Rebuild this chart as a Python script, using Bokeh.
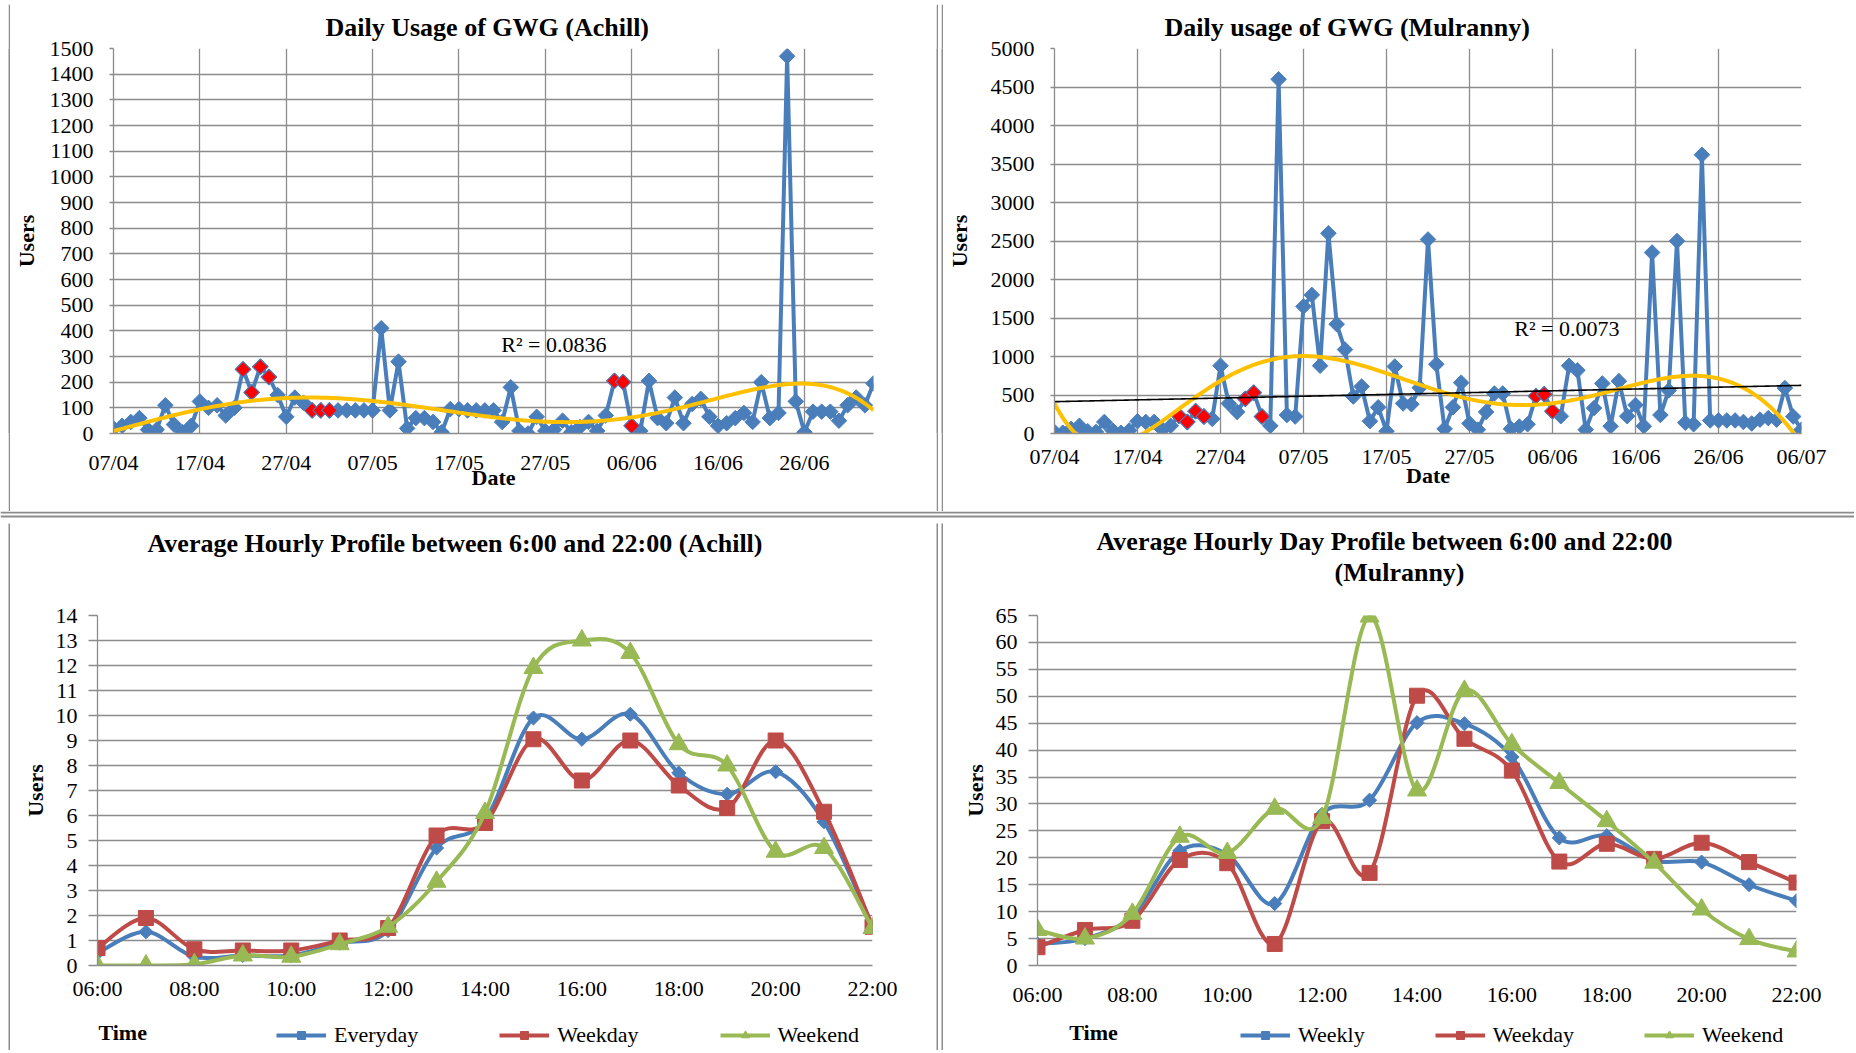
import numpy as np
from numpy.polynomial import Polynomial
from bokeh.plotting import figure
from bokeh.models import (Range1d, FixedTicker, SingleIntervalTicker, Label, Legend,
                          LegendItem, ColumnDataSource, Title, Span)
from bokeh.layouts import column, row
from bokeh.embed import file_html
from bokeh.resources import INLINE

# ---------------- data ----------------
# Daily usage, Achill: one value per day starting 07/04
achill_users = [20, 30, 45, 60, 15, 15, 110, 35, 5, 30,
                125, 100, 110, 70, 100, 250, 160, 260, 220, 150,
                65, 140, 120, 90, 90, 90, 90, 90, 90, 90,
                90, 410, 90, 280, 20, 60, 60, 45, 5, 95,
                95, 90, 90, 90, 90, 45, 180, 10, 0, 65,
                10, 15, 50, 5, 25, 45, 10, 70, 205, 200,
                30, 10, 205, 60, 40, 140, 40, 115, 135, 65,
                30, 40, 60, 80, 45, 200, 60, 80, 1470, 125,
                5, 85, 85, 85, 50, 110, 140, 110, 195]
achill_holidays = [15, 16, 17, 18, 23, 24, 25, 58, 59, 60]
achill_tick_days = [0, 10, 20, 30, 40, 50, 60, 70, 80]
achill_tick_labels = ["07/04", "17/04", "27/04", "07/05", "17/05",
                      "27/05", "06/06", "16/06", "26/06"]
achill_r2 = "R\u00b2 = 0.0836"

# Daily usage, Mulranny: one value per day starting 07/04
mulranny_users = [20, 10, 60, 100, 30, 20, 150, 40, 10, 40,
                  160, 150, 150, 50, 100, 230, 150, 290, 220, 190,
                  880, 390, 280, 450, 530, 220, 100, 4600, 240, 220,
                  1650, 1800, 880, 2600, 1420, 1090, 480, 610, 160, 340,
                  30, 870, 390, 380, 595, 2520, 900, 60, 340, 660,
                  130, 50, 280, 520, 520, 60, 90, 120, 485, 510,
                  290, 225, 880, 820, 50, 330, 650, 95, 680, 225,
                  370, 95, 2350, 240, 560, 2500, 140, 120, 3620, 170,
                  170, 170, 170, 150, 130, 180, 200, 180, 590, 220,
                  50]
mulranny_holidays = [15, 16, 17, 18, 23, 24, 25, 58, 59, 60]
mulranny_tick_days = [0, 10, 20, 30, 40, 50, 60, 70, 80, 90]
mulranny_tick_labels = ["07/04", "17/04", "27/04", "07/05", "17/05",
                        "27/05", "06/06", "16/06", "26/06", "06/07"]
mulranny_r2 = "R\u00b2 = 0.0073"

# Average hourly profiles
hours = [6, 7, 8, 9, 10, 11, 12, 13, 14, 15, 16, 17, 18, 19, 20, 21, 22]
hour_ticks = [6, 8, 10, 12, 14, 16, 18, 20, 22]
hour_tick_labels = ["06:00", "08:00", "10:00", "12:00", "14:00",
                    "16:00", "18:00", "20:00", "22:00"]

achill_everyday = [0.5, 1.35, 0.35, 0.4, 0.4, 0.9, 1.4, 4.7, 5.8,
                   9.9, 9.05, 10.05, 7.7, 6.85, 7.75, 5.75, 1.55]
achill_weekday = [0.7, 1.9, 0.65, 0.6, 0.6, 1.0, 1.5, 5.2, 5.7,
                  9.05, 7.4, 9.0, 7.2, 6.3, 9.0, 6.15, 1.55]
achill_weekend = [0.0, 0.0, 0.05, 0.4, 0.35, 0.85, 1.55, 3.35, 6.1,
                  11.9, 13.0, 12.5, 8.85, 8.0, 4.55, 4.7, 1.5]

mulranny_weekly = [4.0, 5.0, 9.2, 21.3, 20.6, 11.5, 28.1, 30.7, 45.1,
                   44.9, 38.7, 23.7, 24.1, 19.5, 19.2, 15.0, 12.0]
mulranny_weekday = [3.4, 6.6, 8.3, 19.6, 19.0, 4.0, 26.8, 17.2, 50.1,
                    42.1, 36.2, 19.3, 22.6, 19.8, 22.8, 19.2, 15.4]
mulranny_weekend = [6.6, 5.0, 9.6, 23.9, 20.9, 29.1, 27.4, 64.8, 32.5,
                    51.0, 41.1, 33.9, 26.8, 19.1, 10.4, 4.9, 2.6]

# ---------------- style ----------------
FONT = "Liberation Serif"
GRID = "#8c8c8c"
BLUE = "#4a7ebb"
RED = "#be4b48"
GREEN = "#98b954"
YELLOW = "#ffc000"


def solid(width, height, color):
    """Empty figure filled with one colour: used for the grey vertical frame lines."""
    f = figure(width=width, height=height, x_range=Range1d(0, 1), y_range=Range1d(0, 1),
               output_backend="svg", toolbar_location=None, title=None,
               x_axis_type=None, y_axis_type=None,
               min_border_left=0, min_border_right=0,
               min_border_top=0, min_border_bottom=0)
    f.background_fill_color = color
    f.border_fill_color = color
    f.outline_line_color = None
    return f


def hrule_strip(width, height, rule_heights):
    """White strip with horizontal grey frame lines (heights in px from the bottom)."""
    f = figure(width=width, height=height, x_range=Range1d(0, width),
               y_range=Range1d(0, height), output_backend="svg",
               toolbar_location=None, title=None, x_axis_type=None, y_axis_type=None,
               min_border_left=0, min_border_right=0,
               min_border_top=0, min_border_bottom=0)
    f.background_fill_color = "white"
    f.border_fill_color = "white"
    f.outline_line_color = None
    for hy in rule_heights:
        f.add_layout(Span(location=hy, dimension="width", line_color=GRID, line_width=2))
    return f


def make_fig(width, height, xr, yr, borders, y_tick_out, y_standoff, x_standoff):
    left, right, top, bottom = borders
    p = figure(width=width, height=height,
               x_range=Range1d(*xr), y_range=Range1d(*yr),
               output_backend="svg", toolbar_location=None,
               min_border_left=left, min_border_right=right,
               min_border_top=top, min_border_bottom=bottom)
    p.outline_line_color = None
    p.background_fill_color = "white"
    p.border_fill_color = "white"
    for ax in (p.xaxis[0], p.yaxis[0]):
        ax.axis_line_color = GRID
        ax.axis_line_width = 1.3
        ax.major_tick_line_color = GRID
        ax.major_tick_line_width = 1.3
        ax.minor_tick_line_color = None
        ax.major_tick_in = 0
        ax.major_label_text_font = FONT
        ax.major_label_text_font_size = "22px"
        ax.major_label_text_color = "black"
        ax.axis_label_text_font = FONT
        ax.axis_label_text_font_size = "22px"
        ax.axis_label_text_font_style = "bold"
        ax.axis_label_text_color = "black"
    p.xaxis.major_tick_out = 0
    p.xaxis.major_label_standoff = x_standoff
    p.yaxis.major_tick_out = y_tick_out
    p.yaxis.major_label_standoff = y_standoff
    p.grid.grid_line_color = GRID
    p.grid.grid_line_width = 1.3
    return p


def style_title(t, text, offset, standoff):
    t.text = text
    t.align = "left"
    t.offset = offset
    t.standoff = standoff
    t.text_font = FONT
    t.text_font_size = "26px"
    t.text_font_style = "bold"
    t.text_color = "black"


def add_title(p, text, offset, standoff):
    t = Title()
    style_title(t, text, offset, standoff)
    p.add_layout(t, "above")


def smooth_source(xs, ys):
    """Bezier control points (Catmull-Rom) so the curve passes through every point."""
    x = np.asarray(xs, float)
    y = np.asarray(ys, float)
    n = len(x)
    xp = np.concatenate([[x[0]], x, [x[-1]]])
    yp = np.concatenate([[y[0]], y, [y[-1]]])
    return ColumnDataSource(dict(
        x0=x[:-1], y0=y[:-1], x1=x[1:], y1=y[1:],
        cx0=x[:-1] + (xp[2:n + 1] - xp[0:n - 1]) / 6.0,
        cy0=y[:-1] + (yp[2:n + 1] - yp[0:n - 1]) / 6.0,
        cx1=x[1:] - (xp[3:n + 2] - xp[1:n]) / 6.0,
        cy1=y[1:] - (yp[3:n + 2] - yp[1:n]) / 6.0,
    ))


def daily_chart(width, height, borders, users, holidays, tick_days, tick_labels,
                xmax, ymax, ystep, deg, with_linear, x_standoff):
    p = make_fig(width, height, (0, xmax), (0, ymax), borders, 4, 16, x_standoff)
    p.xaxis.ticker = FixedTicker(ticks=tick_days)
    p.xaxis.major_label_overrides = {d: lab for d, lab in zip(tick_days, tick_labels)}
    p.yaxis.ticker = SingleIntervalTicker(interval=ystep, num_minor_ticks=0)
    days = np.arange(len(users))
    p.line(days, users, line_color=BLUE, line_width=4)
    p.scatter(days, users, marker="square", angle=np.pi / 4, size=11,
              fill_color=BLUE, line_color=BLUE, line_width=1)
    hol_vals = [users[d] for d in holidays]
    p.scatter(holidays, hol_vals, marker="square", angle=np.pi / 4, size=11,
              fill_color="#ff0000", line_color=BLUE, line_width=1.2)
    xs = np.linspace(0, xmax, 500)
    poly = Polynomial.fit(days, users, deg)
    p.line(xs, poly(xs), line_color=YELLOW, line_width=4)
    if with_linear:
        lin = Polynomial.fit(days, users, 1)
        p.line(xs, lin(xs), line_color="black", line_width=1.6)
    p.xaxis.axis_label = "Date"
    p.yaxis.axis_label = "Users"
    return p


# ---------------- top left: Achill daily ----------------
p1 = daily_chart(926, 507, (103, 63, 44, 78), achill_users, achill_holidays,
                 achill_tick_days, achill_tick_labels, 88, 1500, 100, 6, False, 16)
style_title(p1.title, "Daily Usage of GWG (Achill)", 212, 13)
p1.yaxis.axis_label_standoff = 8
p1.xaxis.axis_label_standoff = -13
p1.add_layout(Label(x=44.9, y=347, text=achill_r2, text_font=FONT, text_font_size="22px",
                    text_align="left", text_baseline="middle", text_color="black"))

# ---------------- top right: Mulranny daily ----------------
p2 = daily_chart(911, 507, (111, 53, 44, 78), mulranny_users, mulranny_holidays,
                 mulranny_tick_days, mulranny_tick_labels, 90, 5000, 500, 6, True, 10)
style_title(p2.title, "Daily usage of GWG (Mulranny)", 110, 13)
p2.yaxis.axis_label_standoff = 16
p2.xaxis.axis_label_standoff = -9
p2.add_layout(Label(x=55.4, y=1367, text=mulranny_r2, text_font=FONT, text_font_size="22px",
                    text_align="left", text_baseline="middle", text_color="black"))


# ---------------- bottom charts ----------------
def hourly_chart(width, height, borders, ymax, ystep, series, x_standoff, y_label_standoff):
    p = make_fig(width, height, (6, 22), (0, ymax), borders, 9, 11, x_standoff)
    p.xaxis.ticker = FixedTicker(ticks=hour_ticks)
    p.xaxis.major_label_overrides = {h: lab for h, lab in zip(hour_ticks, hour_tick_labels)}
    p.yaxis.ticker = SingleIntervalTicker(interval=ystep, num_minor_ticks=0)
    p.xgrid.grid_line_color = None
    p.yaxis.axis_label = "Users"
    p.yaxis.axis_label_standoff = y_label_standoff
    for name, vals, color, marker, size, angle in series:
        p.bezier(x0="x0", y0="y0", x1="x1", y1="y1", cx0="cx0", cy0="cy0",
                 cx1="cx1", cy1="cy1", source=smooth_source(hours, vals),
                 line_color=color, line_width=4)
        p.scatter(hours, vals, marker=marker, size=size, angle=angle,
                  fill_color=color, line_color=color, line_width=1)
    return p


def legend_strip(width, height, series, legend_x, spacing, time_x, time_y):
    """Strip under an hourly chart holding the axis title 'Time' and the legend."""
    q = figure(width=width, height=height, x_range=Range1d(6, 22),
               y_range=Range1d(0, height), output_backend="svg",
               toolbar_location=None, title=None, x_axis_type=None, y_axis_type=None,
               min_border_left=0, min_border_right=0, min_border_top=0, min_border_bottom=0)
    q.outline_line_color = None
    q.background_fill_color = "white"
    q.border_fill_color = "white"
    items = []
    for name, vals, color, marker, size, angle in series:
        # keys for the legend only: placed outside the visible range
        ln = q.line(x=[-100, -99], y=[-100, -100], line_color=color, line_width=4)
        sc = q.scatter(x=[-100], y=[-100], marker=marker, size=size, angle=angle,
                       fill_color=color, line_color=color, line_width=1)
        items.append(LegendItem(label=name, renderers=[ln, sc]))
    legend = Legend(items=items, orientation="horizontal", location=(legend_x, 2),
                    glyph_width=50, glyph_height=20, label_standoff=8, spacing=spacing,
                    padding=0, margin=0, border_line_color=None,
                    background_fill_alpha=0, label_text_font=FONT,
                    label_text_font_size="22px", label_text_color="black")
    q.add_layout(legend)
    q.add_layout(Label(x=time_x, y=time_y, text="Time", text_font=FONT,
                       text_font_size="22px", text_font_style="bold",
                       text_align="center", text_baseline="middle", text_color="black"))
    return q


achill_series = [("Everyday", achill_everyday, BLUE, "square", 10, np.pi / 4),
                 ("Weekday", achill_weekday, RED, "square", 15, 0.0),
                 ("Weekend", achill_weekend, GREEN, "triangle", 19, 0.0)]
mulranny_series = [("Weekly", mulranny_weekly, BLUE, "square", 10, np.pi / 4),
                   ("Weekday", mulranny_weekday, RED, "square", 15, 0.0),
                   ("Weekend", mulranny_weekend, GREEN, "triangle", 19, 0.0)]

p3 = hourly_chart(926, 489, (87, 64, 92, 47), 14, 1, achill_series, 10, 5)
# trailing blank lines keep the title clear of the plot area
style_title(p3.title, "Average Hourly Profile between 6:00 and 22:00 (Achill)\n\n", 50, 0)
q3 = legend_strip(926, 38, achill_series, 179, 81, 6.52, 18)

p4 = hourly_chart(911, 489, (94, 58, 92, 47), 65, 5, mulranny_series, 16, 5)
style_title(p4.title, "Average Hourly Day Profile between 6:00 and 22:00", 59, 0)
add_title(p4, "(Mulranny)\n", 297, 0)
q4 = legend_strip(911, 38, mulranny_series, 203, 70, 7.18, 18)


# ---------------- page layout with grey panel frame lines ----------------
def panel_row(h, left_panel, right_panel):
    return row(solid(8, h, "white"), solid(2, h, GRID), left_panel,
               solid(2, h, GRID), solid(3, h, "white"), solid(2, h, GRID), right_panel)


layout = column(
    hrule_strip(1854, 4, [1]),
    panel_row(507, p1, p2),
    hrule_strip(1854, 12, [11, 7]),
    panel_row(527, column(p3, q3), column(p4, q4)),
)
open("out.html", "w").write(file_html(layout, INLINE))
